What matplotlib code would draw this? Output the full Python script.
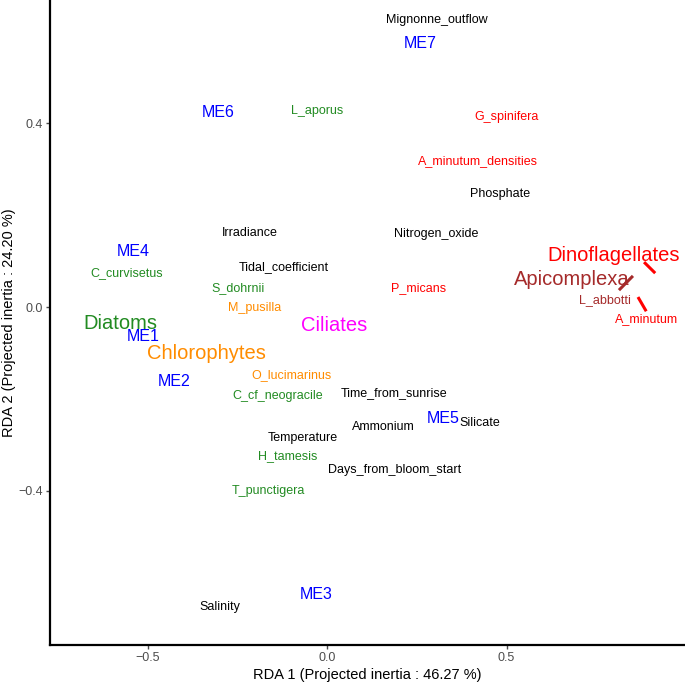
import matplotlib
matplotlib.use("Agg")
import matplotlib.pyplot as plt

plt.rcParams['font.family'] = ['Liberation Sans', 'DejaVu Sans']

# ME labels (blue)
me_names = ["ME1", "ME2", "ME3", "ME4", "ME5", "ME6", "ME7"]
me_x = [-0.513, -0.426, -0.031, -0.540, 0.323, -0.304, 0.259]
me_y = [-0.065, -0.161, -0.627, 0.122, -0.242, 0.423, 0.575]

# environmental variables (black)
env_names = ["Mignonne_outflow", "Phosphate", "Irradiance", "Nitrogen_oxide",
             "Tidal_coefficient", "Time_from_sunrise", "Silicate", "Ammonium",
             "Temperature", "Days_from_bloom_start", "Salinity", "A_minutum_densities"]
env_x = [0.306, 0.482, -0.214, 0.304, -0.120, 0.187, 0.426, 0.156,
         -0.067, 0.187, -0.298, 0.421]
env_y = [0.625, 0.246, 0.161, 0.159, 0.087, -0.187, -0.253, -0.261,
         -0.285, -0.355, -0.654, 0.318]
env_cols = ["black"] * 11 + ["red"]

# species
sp_names = ["L_aporus", "G_spinifera", "C_curvisetus", "S_dohrnii", "P_micans",
            "L_abbotti", "M_pusilla", "A_minutum", "O_lucimarinus",
            "C_cf_neogracile", "H_tamesis", "T_punctigera"]
sp_x = [-0.028, 0.499, -0.557, -0.248, 0.256, 0.774, -0.201, 0.891, -0.100,
        -0.139, -0.111, -0.164]
sp_y = [0.427, 0.414, 0.074, 0.041, 0.041, 0.015, -0.002, -0.026, -0.148,
        -0.194, -0.325, -0.401]
sp_cols = ["forestgreen", "red", "forestgreen", "forestgreen", "red", "brown",
           "darkorange", "red", "darkorange", "forestgreen", "forestgreen",
           "forestgreen"]

# groups
grp_names = ["Dinoflagellates", "Apicomplexa", "Diatoms", "Ciliates", "Chlorophytes"]
grp_x = [0.799, 0.682, -0.577, 0.019, -0.337]
grp_y = [0.113, 0.061, -0.035, -0.039, -0.102]
grp_cols = ["red", "brown", "forestgreen", "magenta", "darkorange"]

# short segments
seg_x0 = [0.883, 0.813, 0.866]
seg_y0 = [0.098, 0.037, 0.022]
seg_x1 = [0.914, 0.852, 0.889]
seg_y1 = [0.074, 0.068, -0.009]
seg_cols = ["red", "brown", "red"]

fig = plt.figure(figsize=(6.85, 6.84), dpi=100)
ax = fig.add_axes([0.073, 0.057, 0.927, 0.943])

for i in range(len(seg_x0)):
    ax.plot([seg_x0[i], seg_x1[i]], [seg_y0[i], seg_y1[i]], color=seg_cols[i], lw=2.2,
            solid_capstyle='butt')

for n, x, y in zip(me_names, me_x, me_y):
    ax.text(x, y, n, color="blue", fontsize=11.5, ha='center', va='center')
for n, x, y, c in zip(env_names, env_x, env_y, env_cols):
    ax.text(x, y, n, color=c, fontsize=9, ha='center', va='center')
for n, x, y, c in zip(sp_names, sp_x, sp_y, sp_cols):
    ax.text(x, y, n, color=c, fontsize=9, ha='center', va='center')
for n, x, y, c in zip(grp_names, grp_x, grp_y, grp_cols):
    ax.text(x, y, n, color=c, fontsize=14.5, ha='center', va='center')

ax.set_xlim(-0.772, 0.997)
ax.set_ylim(-0.736, 0.669)
ax.set_xticks([-0.5, 0.0, 0.5])
ax.set_xticklabels(["\u22120.5", "0.0", "0.5"])
ax.set_yticks([-0.4, 0.0, 0.4])
ax.set_yticklabels(["\u22120.4", "0.0", "0.4"])
ax.spines['top'].set_visible(False)
ax.spines['right'].set_visible(False)
ax.spines['left'].set_linewidth(1.6)
ax.spines['bottom'].set_linewidth(1.6)
ax.tick_params(colors='#4d4d4d', labelsize=9, length=3, width=1, pad=2)
ax.set_xlabel("RDA 1 (Projected inertia : 46.27 %)", fontsize=10.5)
ax.set_ylabel("RDA 2 (Projected inertia : 24.20 %)", fontsize=10.5)
ax.yaxis.set_label_coords(-0.054, 0.5)
ax.xaxis.set_label_coords(0.5, -0.035)

fig.savefig("out.png", dpi=100)
